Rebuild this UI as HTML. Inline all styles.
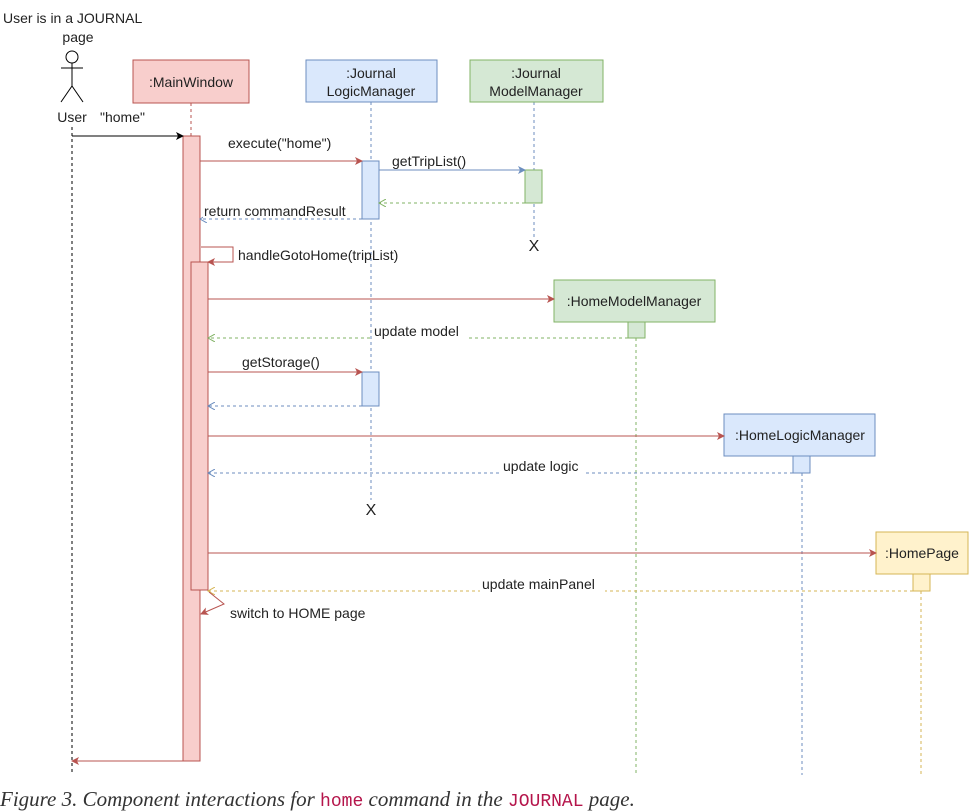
<!DOCTYPE html>
<html><head><meta charset="utf-8"><style>
body{margin:0;background:#fff;width:971px;height:811px;overflow:hidden}
svg{display:block}
text{font-family:"Liberation Sans",sans-serif;font-size:14px;fill:#222}
.cap{font-family:"Liberation Serif",serif;font-style:italic;font-size:21px;fill:#333}
</style></head><body>
<svg width="971" height="811" viewBox="0 0 971 811">
<defs>
<marker id="ak" markerWidth="8" markerHeight="8" refX="7" refY="4" orient="auto" markerUnits="userSpaceOnUse"><path d="M0,0 L8,4 L0,8 L2,4z" fill="#000"/></marker>
<marker id="ar" markerWidth="8" markerHeight="8" refX="7" refY="4" orient="auto" markerUnits="userSpaceOnUse"><path d="M0,0 L8,4 L0,8 L2,4z" fill="#b85450"/></marker>
<marker id="ab" markerWidth="8" markerHeight="8" refX="7" refY="4" orient="auto" markerUnits="userSpaceOnUse"><path d="M0,0 L8,4 L0,8 L2,4z" fill="#6c8ebf"/></marker>
<marker id="obl" markerWidth="8" markerHeight="8" refX="7" refY="4" orient="auto" markerUnits="userSpaceOnUse"><path d="M0,0 L7,4 L0,8" fill="none" stroke="#6c8ebf"/></marker>
<marker id="og" markerWidth="8" markerHeight="8" refX="7" refY="4" orient="auto" markerUnits="userSpaceOnUse"><path d="M0,0 L7,4 L0,8" fill="none" stroke="#82b366"/></marker>
<marker id="oy" markerWidth="8" markerHeight="8" refX="7" refY="4" orient="auto" markerUnits="userSpaceOnUse"><path d="M0,0 L7,4 L0,8" fill="none" stroke="#d6b656"/></marker>
</defs>
<text x="3" y="23">User is in a JOURNAL</text>
<text x="78" y="42" text-anchor="middle">page</text>
<circle cx="72" cy="57" r="6" fill="#fff" stroke="#000"/>
<line x1="72" y1="63" x2="72" y2="86" stroke="#000"/>
<line x1="61" y1="68" x2="83" y2="68" stroke="#000"/>
<line x1="72" y1="86" x2="61" y2="102" stroke="#000"/>
<line x1="72" y1="86" x2="83" y2="102" stroke="#000"/>
<text x="72" y="122" text-anchor="middle">User</text>
<line x1="72" y1="127" x2="72" y2="775" stroke="#000" stroke-dasharray="3,3"/>
<line x1="191" y1="103" x2="191" y2="136" stroke="#b85450" stroke-dasharray="3,3"/>
<line x1="371" y1="102" x2="371" y2="500" stroke="#6c8ebf" stroke-dasharray="3,3"/>
<line x1="534" y1="102" x2="534" y2="238" stroke="#6c8ebf" stroke-dasharray="3,3"/>
<line x1="636" y1="338" x2="636" y2="775" stroke="#82b366" stroke-dasharray="3,3"/>
<line x1="802" y1="473" x2="802" y2="775" stroke="#6c8ebf" stroke-dasharray="3,3"/>
<line x1="921" y1="591" x2="921" y2="775" stroke="#d6b656" stroke-dasharray="3,3"/>
<rect x="133" y="60" width="116" height="43" fill="#f8cecc" stroke="#b85450"/>
<text x="191" y="87" text-anchor="middle">:MainWindow</text>
<rect x="306" y="60" width="131" height="42" fill="#dae8fc" stroke="#6c8ebf"/>
<text x="371" y="78" text-anchor="middle">:Journal</text>
<text x="371" y="96" text-anchor="middle">LogicManager</text>
<rect x="470" y="60" width="133" height="42" fill="#d5e8d4" stroke="#82b366"/>
<text x="536" y="78" text-anchor="middle">:Journal</text>
<text x="536" y="96" text-anchor="middle">ModelManager</text>
<rect x="554" y="280" width="161" height="42" fill="#d5e8d4" stroke="#82b366"/>
<text x="634" y="306" text-anchor="middle">:HomeModelManager</text>
<rect x="724" y="414" width="151" height="42" fill="#dae8fc" stroke="#6c8ebf"/>
<text x="800" y="440" text-anchor="middle">:HomeLogicManager</text>
<rect x="876" y="532" width="92" height="42" fill="#fff2cc" stroke="#d6b656"/>
<text x="922" y="558" text-anchor="middle">:HomePage</text>
<rect x="183" y="136" width="17" height="625" fill="#f8cecc" stroke="#b85450"/>
<rect x="191" y="262" width="17" height="328" fill="#f8cecc" stroke="#b85450"/>
<rect x="362" y="161" width="17" height="58" fill="#dae8fc" stroke="#6c8ebf"/>
<rect x="362" y="372" width="17" height="34" fill="#dae8fc" stroke="#6c8ebf"/>
<rect x="525" y="170" width="17" height="33" fill="#d5e8d4" stroke="#82b366"/>
<rect x="628" y="322" width="17" height="16" fill="#d5e8d4" stroke="#82b366"/>
<rect x="793" y="456" width="17" height="17" fill="#dae8fc" stroke="#6c8ebf"/>
<rect x="913" y="574" width="17" height="17" fill="#fff2cc" stroke="#d6b656"/>
<text x="534" y="251" text-anchor="middle" style="font-size:16px">X</text>
<text x="371" y="515" text-anchor="middle" style="font-size:16px">X</text>
<line x1="72" y1="136" x2="183" y2="136" stroke="#000" marker-end="url(#ak)"/>
<text x="100" y="122">"home"</text>
<line x1="200" y1="161" x2="362" y2="161" stroke="#b85450" marker-end="url(#ar)"/>
<text x="228" y="148">execute("home")</text>
<line x1="379" y1="170" x2="525" y2="170" stroke="#6c8ebf" marker-end="url(#ab)"/>
<text x="392" y="166">getTripList()</text>
<line x1="525" y1="203" x2="379" y2="203" stroke="#82b366" stroke-dasharray="3,3" marker-end="url(#og)"/>
<line x1="362" y1="219" x2="200" y2="219" stroke="#6c8ebf" stroke-dasharray="3,3" marker-end="url(#obl)"/>
<rect x="203" y="202" width="156" height="16" fill="#fff"/>
<text x="204" y="216">return commandResult</text>
<path d="M201,247 H233 V262 H208" fill="none" stroke="#b85450" marker-end="url(#ar)"/>
<text x="238" y="260">handleGotoHome(tripList)</text>
<line x1="208" y1="299" x2="554" y2="299" stroke="#b85450" marker-end="url(#ar)"/>
<line x1="628" y1="338" x2="208" y2="338" stroke="#82b366" stroke-dasharray="3,3" marker-end="url(#og)"/>
<rect x="372" y="323" width="96" height="16" fill="#fff"/>
<text x="374" y="336">update model</text>
<line x1="208" y1="372" x2="362" y2="372" stroke="#b85450" marker-end="url(#ar)"/>
<text x="242" y="367">getStorage()</text>
<line x1="362" y1="406" x2="208" y2="406" stroke="#6c8ebf" stroke-dasharray="3,3" marker-end="url(#obl)"/>
<line x1="208" y1="436" x2="724" y2="436" stroke="#b85450" marker-end="url(#ar)"/>
<line x1="793" y1="473" x2="208" y2="473" stroke="#6c8ebf" stroke-dasharray="3,3" marker-end="url(#obl)"/>
<rect x="501" y="458" width="85" height="16" fill="#fff"/>
<text x="503" y="471">update logic</text>
<line x1="208" y1="553" x2="876" y2="553" stroke="#b85450" marker-end="url(#ar)"/>
<line x1="913" y1="591" x2="208" y2="591" stroke="#d6b656" stroke-dasharray="3,3" marker-end="url(#oy)"/>
<rect x="480" y="576" width="125" height="16" fill="#fff"/>
<text x="482" y="589">update mainPanel</text>
<path d="M209,592 L224,604 L201,614" fill="none" stroke="#b85450" marker-end="url(#ar)"/>
<text x="230" y="618">switch to HOME page</text>
<line x1="183" y1="761" x2="72" y2="761" stroke="#b85450" marker-end="url(#ar)"/>
<text x="0" y="806" class="cap">Figure 3. Component interactions for <tspan style="font-family:'Liberation Mono',monospace;font-style:normal;fill:#b5154b;font-size:18px">home</tspan> command in the <tspan style="font-family:'Liberation Mono',monospace;font-style:normal;fill:#b5154b;font-size:18px">JOURNAL</tspan> page.</text>
</svg>
</body></html>
